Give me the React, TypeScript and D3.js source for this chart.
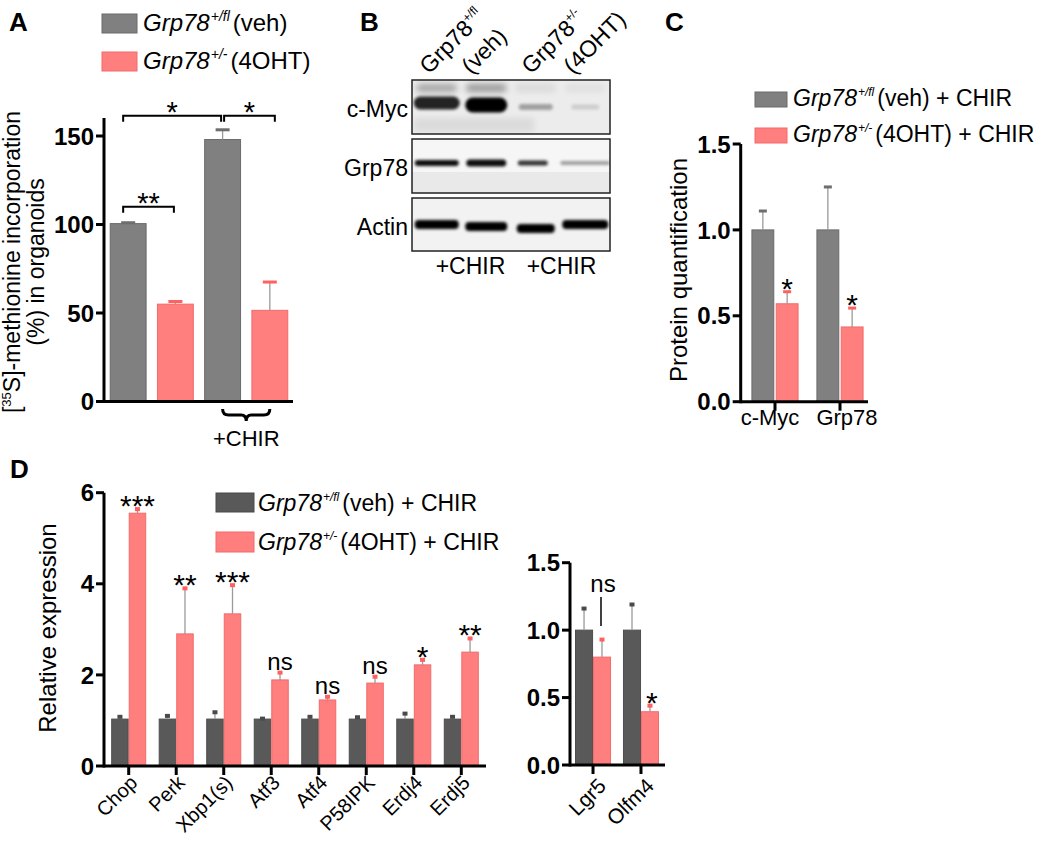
import React from 'react';
import * as d3 from 'd3';

const FONT = '"Liberation Sans", Arial, Helvetica, sans-serif';
const GRAY = '#808080';
const GRAY_EDGE = '#6a6a6a';
const GRAY_D = '#595959';
const PINK = '#ff7f7f';
const PINK_EDGE = '#f26a6a';
const WHISKER = '#9a9a9a';

// ---------- Panel A ----------
const aConditions = ['veh', '4OHT', 'veh + CHIR', '4OHT + CHIR'];
const aGenotype = ['veh', 'oht', 'veh', 'oht'];
const aValues = [100.5, 55, 148, 51.5];
const aErrors = [0.5, 1.5, 5.5, 16];
const aTicks = [0, 50, 100, 150];
const aBrackets = [
  { from: 0, to: 1, level: 110, label: '**' },
  { from: 0, to: 2, level: 161.5, label: '*' },
  { from: 2, to: 3, level: 161.5, label: '*' },
];

// ---------- Panel B (blot) ----------
const blotLanes = ['veh-1', 'veh-2', 'oht-1', 'oht-2'];
const blotRows = ['c-Myc', 'Grp78', 'Actin'];
const cMycBands = [0.85, 1.0, 0.32, 0.13];
const cMycUpper = [0.3, 0.35, 0.08, 0.05];
const grp78Bands = [0.95, 0.95, 0.8, 0.35];
const actinBands = [1, 1, 1, 1];

// ---------- Panel C ----------
const cProteins = ['c-Myc', 'Grp78'];
const cVeh = [1.0, 1.0];
const cVehErr = [0.11, 0.25];
const cOht = [0.57, 0.435];
const cOhtErr = [0.07, 0.11];
const cSig = ['*', '*'];
const cTicks = [0, 0.5, 1.0, 1.5];

// ---------- Panel D ----------
const dGenes = ['Chop', 'Perk', 'Xbp1(s)', 'Atf3', 'Atf4', 'P58IPK', 'Erdj4', 'Erdj5'];
const dVeh = [1.03, 1.03, 1.03, 1.03, 1.03, 1.03, 1.03, 1.03];
const dVehErr = [0.05, 0.07, 0.15, 0.01, 0.05, 0.04, 0.12, 0.05];
const dOht = [5.55, 2.9, 3.34, 1.89, 1.45, 1.82, 2.22, 2.5];
const dOhtErr = [0.09, 1.0, 0.63, 0.16, 0.07, 0.14, 0.11, 0.3];
const dSig = ['***', '**', '***', 'ns', 'ns', 'ns', '*', '**'];
const dTicks = [0, 2, 4, 6];

const eGenes = ['Lgr5', 'Olfm4'];
const eVeh = [1.0, 1.0];
const eVehErr = [0.16, 0.19];
const eOht = [0.8, 0.395];
const eOhtErr = [0.13, 0.045];
const eSig = ['ns', '*'];
const eTicks = [0, 0.5, 1.0, 1.5];

const fmt1 = d3.format('.1f');
const fmt0 = d3.format('d');

function YAxis({ y, x, ticks, top, fmt, fontSize = 24 }: any) {
  return (
    <g>
      <line x1={x} x2={x} y1={y(0) + 1.5} y2={top} stroke="#000" strokeWidth={3} />
      {ticks.map((t: number) => (
        <g key={t}>
          <line x1={x - 8} x2={x} y1={y(t)} y2={y(t)} stroke="#000" strokeWidth={3} />
          <text x={x - 10} y={y(t)} dy="0.36em" textAnchor="end" fontWeight="bold" fontSize={fontSize}>
            {fmt(t)}
          </text>
        </g>
      ))}
    </g>
  );
}

function Bar({ x, w, y0, y1, fill, stroke }: any) {
  return <rect x={x} y={y1} width={w} height={y0 - y1} fill={fill} stroke={stroke} strokeWidth={1} />;
}

function ErrBar({ cx, yTop, yErr, capW, capH, capColor }: any) {
  return (
    <g>
      <line x1={cx} x2={cx} y1={yTop} y2={yErr} stroke={WHISKER} strokeWidth={1.3} />
      <rect x={cx - capW / 2} y={yErr - capH / 2} width={capW} height={capH} fill={capColor} />
    </g>
  );
}

function Geno({ x, y, sup, rest, fontSize, supSize }: any) {
  const s = supSize || fontSize * 0.55;
  const d = fontSize * 0.42;
  return (
    <text x={x} y={y} fontSize={fontSize}>
      <tspan fontStyle="italic">Grp78</tspan>
      <tspan fontStyle="italic" fontSize={s} dy={-d} dx={1}>{sup}</tspan>
      <tspan dy={d} dx={3}>{rest}</tspan>
    </text>
  );
}

function SigLabel({ x, capY, label, starSize = 30, nsSize = 24 }: any) {
  const isNs = label === 'ns';
  return (
    <text x={x} y={isNs ? capY - 3 : capY + 7} textAnchor="middle" fontSize={isNs ? nsSize : starSize}>
      {label}
    </text>
  );
}

function PanelA() {
  const y = d3.scaleLinear().domain([0, 150]).range([401.5, 136]);
  const x = d3.scaleBand().domain(aConditions).range([105.5, 292.5]).paddingInner(0.24).paddingOuter(0.1);
  const bw = x.bandwidth();
  const cx = (i: number) => (x(aConditions[i]) as number) + bw / 2;
  const x3 = cx(2);
  const x4 = cx(3);
  const by = 409;
  return (
    <g>
      <text x={9} y={31} fontSize={26} fontWeight="bold">A</text>
      <rect x={102} y={14} width={35} height={19} fill={GRAY} stroke={GRAY_EDGE} />
      <Geno x={143} y={31} sup="+/fl" rest="(veh)" fontSize={24} supSize={14} />
      <rect x={102} y={52} width={35} height={19} fill={PINK} stroke={PINK_EDGE} />
      <Geno x={143} y={69} sup="+/-" rest="(4OHT)" fontSize={24} supSize={14} />

      {aConditions.map((c, i) => {
        const isVeh = aGenotype[i] === 'veh';
        const x0 = x(c) as number;
        return (
          <g key={c}>
            <Bar x={x0} w={bw} y0={y(0)} y1={y(aValues[i])} fill={isVeh ? GRAY : PINK} stroke={isVeh ? GRAY_EDGE : PINK_EDGE} />
            <ErrBar cx={x0 + bw / 2} yTop={y(aValues[i])} yErr={y(aValues[i] + aErrors[i])} capW={14} capH={3} capColor={isVeh ? '#6e6e6e' : '#ff6060'} />
          </g>
        );
      })}
      <line x1={104} x2={293} y1={y(0)} y2={y(0)} stroke="#000" strokeWidth={3} />
      <YAxis y={y} x={104} ticks={aTicks} top={118} fmt={fmt0} />

      {aBrackets.map((b, i) => {
        const ly = y(b.level);
        const x1 = cx(b.from) - (b.from === 0 ? 5 : -1.5);
        const x2 = cx(b.to) + (b.to === 3 ? 5 : -1.5);
        return (
          <g key={i}>
            <path d={`M${x1},${ly + 6}V${ly}H${x2}V${ly + 6}`} fill="none" stroke="#000" strokeWidth={2} />
            <text x={(x1 + x2) / 2} y={ly + 6} textAnchor="middle" fontSize={29}>{b.label}</text>
          </g>
        );
      })}

      <path
        d={`M${x3},${by} Q${x3},${by + 6} ${x3 + 6},${by + 6} L${(x3 + x4) / 2 - 5},${by + 6} Q${(x3 + x4) / 2},${by + 6} ${(x3 + x4) / 2},${by + 12} Q${(x3 + x4) / 2},${by + 6} ${(x3 + x4) / 2 + 5},${by + 6} L${x4 - 6},${by + 6} Q${x4},${by + 6} ${x4},${by}`}
        fill="none" stroke="#000" strokeWidth={3}
      />
      <text x={(x3 + x4) / 2} y={446} textAnchor="middle" fontSize={22}>+CHIR</text>

      <text transform="translate(20,262) rotate(-90)" textAnchor="middle" fontSize={23}>
        <tspan>[</tspan>
        <tspan fontSize={13} dy={-9}>35</tspan>
        <tspan dy={9}>S]-methionine incorporation</tspan>
      </text>
      <text transform="translate(44,262) rotate(-90)" textAnchor="middle" fontSize={23}>(%) in organoids</text>
    </g>
  );
}

function PanelB() {
  const lx = d3.scaleBand().domain(blotLanes).range([412, 610]).paddingInner(0.1).paddingOuter(0.05);
  const lw = lx.bandwidth();
  const boxes = [
    { top: 80, bottom: 134 },
    { top: 139, bottom: 193 },
    { top: 198, bottom: 251 },
  ];
  const lc = (i: number) => (lx(blotLanes[i]) as number) + lw / 2;
  return (
    <g>
      <defs>
        <filter id="blurBand" x="-20%" y="-100%" width="140%" height="300%">
          <feGaussianBlur stdDeviation="1.8" />
        </filter>
        <filter id="blurSoft" x="-20%" y="-100%" width="140%" height="300%">
          <feGaussianBlur stdDeviation="3" />
        </filter>
        {boxes.map((b, i) => (
          <clipPath id={`clipRow${i}`} key={i}>
            <rect x={412} y={b.top} width={198} height={b.bottom - b.top} />
          </clipPath>
        ))}
      </defs>
      <text x={360} y={31} fontSize={26} fontWeight="bold">B</text>

      <g fontSize={23}>
        <text transform="translate(429,75) rotate(-45)">
          <tspan>Grp78</tspan>
          <tspan fontSize={12} dy={-10}>+/fl</tspan>
        </text>
        <text transform="translate(471,75) rotate(-45)">(veh)</text>
        <text transform="translate(531,75) rotate(-45)">
          <tspan>Grp78</tspan>
          <tspan fontSize={12} dy={-10}>+/-</tspan>
        </text>
        <text transform="translate(573,75) rotate(-45)">(4OHT)</text>
      </g>

      <g clipPath="url(#clipRow0)">
        <rect x={412} y={80} width={198} height={54} fill="#ececec" />
        <rect x={414} y={118} width={120} height={14} fill="#000" opacity={0.07} filter="url(#blurSoft)" />
        {cMycUpper.map((v, i) => (
          <rect key={'u' + i} x={lc(i) - 20} y={84} width={40} height={8} rx={3} fill="#000" opacity={v} filter="url(#blurSoft)" />
        ))}
        {cMycBands.map((v, i) => {
          const w = [46, 42, 34, 28][i];
          const h = [13, 15, 6, 5][i];
          const dy = [0, 2, 4, 4][i];
          return <rect key={i} x={lc(i) - w / 2} y={103 + dy - h / 2} width={w} height={h} rx={h / 2} fill="#000" opacity={v} filter="url(#blurBand)" />;
        })}
      </g>
      <g clipPath="url(#clipRow1)">
        <rect x={412} y={139} width={198} height={54} fill="#f6f6f6" />
        <rect x={412} y={172} width={198} height={21} fill="#e9e9e9" />
        {grp78Bands.map((v, i) => {
          const w = [44, 40, 30, 50][i];
          const h = [6, 7, 5, 4][i];
          return <rect key={i} x={lc(i) - w / 2 + [0, 0, -3, 0][i]} y={163 - h / 2} width={w} height={h} rx={h / 2} fill="#000" opacity={v} filter="url(#blurBand)" />;
        })}
      </g>
      <g clipPath="url(#clipRow2)">
        <rect x={412} y={198} width={198} height={53} fill="#f2f2f2" />
        {actinBands.map((v, i) => {
          const w = [44, 42, 38, 46][i];
          const dy = [0, 2, 4, 0][i];
          return <rect key={i} x={lc(i) - w / 2} y={220 + dy} width={w} height={9} rx={4} fill="#000" opacity={v} filter="url(#blurBand)" />;
        })}
      </g>
      {boxes.map((b, i) => (
        <g key={i}>
          <rect x={412} y={b.top} width={198} height={b.bottom - b.top} fill="none" stroke="#222" strokeWidth={1.5} />
          <text x={408} y={(b.top + b.bottom) / 2 + 2} dy="0.35em" textAnchor="end" fontSize={23}>{blotRows[i]}</text>
        </g>
      ))}
      <text x={(lc(0) + lc(1)) / 2 + 9} y={274} textAnchor="middle" fontSize={23}>+CHIR</text>
      <text x={(lc(2) + lc(3)) / 2 + 1} y={274} textAnchor="middle" fontSize={23}>+CHIR</text>
    </g>
  );
}

function GroupedBars({ cats, veh, vehErr, oht, ohtErr, x, y, inner, vehColor, vehEdge, capW, capH }: any) {
  return (
    <g>
      {cats.map((c: string, i: number) => {
        const g0 = x(c) as number;
        const bw = inner.bandwidth();
        const xv = g0 + (inner('veh') as number);
        const xo = g0 + (inner('oht') as number);
        return (
          <g key={c}>
            <Bar x={xv} w={bw} y0={y(0)} y1={y(veh[i])} fill={vehColor} stroke={vehEdge} />
            <Bar x={xo} w={bw} y0={y(0)} y1={y(oht[i])} fill={PINK} stroke={PINK_EDGE} />
            <ErrBar cx={xv + bw / 2} yTop={y(veh[i])} yErr={y(veh[i] + vehErr[i])} capW={capW} capH={capH} capColor={vehColor === GRAY ? '#6e6e6e' : '#4a4a4a'} />
            <ErrBar cx={xo + bw / 2} yTop={y(oht[i])} yErr={y(oht[i] + ohtErr[i])} capW={capW} capH={capH} capColor="#ff5f5f" />
          </g>
        );
      })}
    </g>
  );
}

function XTicks({ cats, x, y0 }: any) {
  return (
    <g>
      {cats.map((c: string) => {
        const cx = (x(c) as number) + x.bandwidth() / 2;
        return <line key={c} x1={cx} x2={cx} y1={y0} y2={y0 + 9} stroke="#000" strokeWidth={3} />;
      })}
    </g>
  );
}

function PanelC() {
  const y = d3.scaleLinear().domain([0, 1.5]).range([401.7, 144]);
  const x = d3.scaleBand().domain(cProteins).range([742.5, 872.5]).paddingInner(0.29).paddingOuter(0.145);
  const inner = d3.scaleBand().domain(['veh', 'oht']).range([0, x.bandwidth()]).paddingInner(0.1);
  return (
    <g>
      <text x={665} y={31} fontSize={26} fontWeight="bold">C</text>
      <rect x={755} y={92} width={32} height={15} fill={GRAY} stroke={GRAY_EDGE} />
      <Geno x={793} y={106} sup="+/fl" rest="(veh) + CHIR" fontSize={23} supSize={12} />
      <rect x={755} y={128} width={32} height={15} fill={PINK} stroke={PINK_EDGE} />
      <Geno x={793} y={142} sup="+/-" rest="(4OHT) + CHIR" fontSize={23} supSize={12} />

      <GroupedBars cats={cProteins} veh={cVeh} vehErr={cVehErr} oht={cOht} ohtErr={cOhtErr} x={x} y={y} inner={inner} vehColor={GRAY} vehEdge={GRAY_EDGE} capW={8} capH={3} />
      {cProteins.map((c, i) => {
        const xo = (x(c) as number) + (inner('oht') as number) + inner.bandwidth() / 2;
        return <SigLabel key={c} x={xo} capY={y(cOht[i] + cOhtErr[i])} label={cSig[i]} />;
      })}
      <line x1={740.7} x2={868} y1={y(0)} y2={y(0)} stroke="#000" strokeWidth={3} />
      <XTicks cats={cProteins} x={x} y0={y(0)} />
      <YAxis y={y} x={740.7} ticks={cTicks} top={y(1.5)} fmt={fmt1} />
      {cProteins.map((c, i) => (
        <text key={c} x={(x(c) as number) + x.bandwidth() / 2 + (i === 0 ? -5 : 7)} y={425} textAnchor="middle" fontSize={22}>{c}</text>
      ))}
      <text transform="translate(687,270) rotate(-90)" textAnchor="middle" fontSize={24}>Protein quantification</text>
    </g>
  );
}

function PanelD() {
  const y = d3.scaleLinear().domain([0, 6]).range([766, 492.7]);
  const x = d3.scaleBand().domain(dGenes).range([104, 486]).paddingInner(0.284).paddingOuter(0.162);
  const inner = d3.scaleBand().domain(['veh', 'oht']).range([0, x.bandwidth()]).paddingInner(0.06);
  const ye = d3.scaleLinear().domain([0, 1.5]).range([765, 562.7]);
  const xe = d3.scaleBand().domain(eGenes).range([570, 664]).paddingInner(0.27).paddingOuter(0.115);
  const innerE = d3.scaleBand().domain(['veh', 'oht']).range([0, xe.bandwidth()]).paddingInner(0.05);
  return (
    <g>
      <text x={10} y={478} fontSize={26} fontWeight="bold">D</text>
      <rect x={216} y={493} width={38} height={19} fill={GRAY_D} stroke="#4a4a4a" />
      <Geno x={258} y={511} sup="+/fl" rest="(veh) + CHIR" fontSize={23} supSize={12} />
      <rect x={216} y={532} width={38} height={20} fill={PINK} stroke={PINK_EDGE} />
      <Geno x={258} y={550} sup="+/-" rest="(4OHT) + CHIR" fontSize={23} supSize={12} />

      <GroupedBars cats={dGenes} veh={dVeh} vehErr={dVehErr} oht={dOht} ohtErr={dOhtErr} x={x} y={y} inner={inner} vehColor={GRAY_D} vehEdge="#4d4d4d" capW={5} capH={4} />
      {dGenes.map((g, i) => {
        const xo = (x(g) as number) + (inner('oht') as number) + inner.bandwidth() / 2;
        return <SigLabel key={g} x={xo} capY={y(dOht[i] + dOhtErr[i])} label={dSig[i]} />;
      })}
      <line x1={104} x2={486} y1={y(0)} y2={y(0)} stroke="#000" strokeWidth={3} />
      <XTicks cats={dGenes} x={x} y0={y(0)} />
      <YAxis y={y} x={104} ticks={dTicks} top={y(6)} fmt={fmt0} />
      {dGenes.map((g) => {
        const cx = (x(g) as number) + x.bandwidth() / 2;
        return (
          <text key={g} transform={`translate(${cx + 5},${779}) rotate(-45)`} textAnchor="end" dy="0.35em" fontSize={20}>{g}</text>
        );
      })}
      <text transform="translate(56,628) rotate(-90)" textAnchor="middle" fontSize={24}>Relative expression</text>

      <GroupedBars cats={eGenes} veh={eVeh} vehErr={eVehErr} oht={eOht} ohtErr={eOhtErr} x={xe} y={ye} inner={innerE} vehColor={GRAY_D} vehEdge="#4d4d4d" capW={5} capH={4} />
      {eGenes.map((g, i) => {
        const xo = (xe(g) as number) + (innerE('oht') as number) + innerE.bandwidth() / 2;
        if (eSig[i] === 'ns') {
          return (
            <g key={g}>
              <text x={xo + 1} y={ye(1.28)} textAnchor="middle" fontSize={24}>ns</text>
              <line x1={xo - 1} x2={xo - 1} y1={ye(1.245)} y2={ye(1.03)} stroke="#000" strokeWidth={1.5} />
            </g>
          );
        }
        return <SigLabel key={g} x={xo + 2} capY={ye(eOht[i] + eOhtErr[i])} label={eSig[i]} />;
      })}
      <line x1={570} x2={665} y1={ye(0)} y2={ye(0)} stroke="#000" strokeWidth={3} />
      <XTicks cats={eGenes} x={xe} y0={ye(0)} />
      <YAxis y={ye} x={570} ticks={eTicks} top={ye(1.5)} fmt={fmt1} />
      {eGenes.map((g) => {
        const cx = (xe(g) as number) + xe.bandwidth() / 2;
        return (
          <text key={g} transform={`translate(${cx + 9},${782}) rotate(-45)`} textAnchor="end" dy="0.35em" fontSize={21}>{g}</text>
        );
      })}
    </g>
  );
}

export default function App() {
  return (
    <div style={{ position: 'absolute', left: 0, top: 0 }}>
      <svg width={1050} height={841} style={{ display: 'block', background: '#fff' }} fontFamily={FONT}>
        <PanelA />
        <PanelB />
        <PanelC />
        <PanelD />
      </svg>
    </div>
  );
}
